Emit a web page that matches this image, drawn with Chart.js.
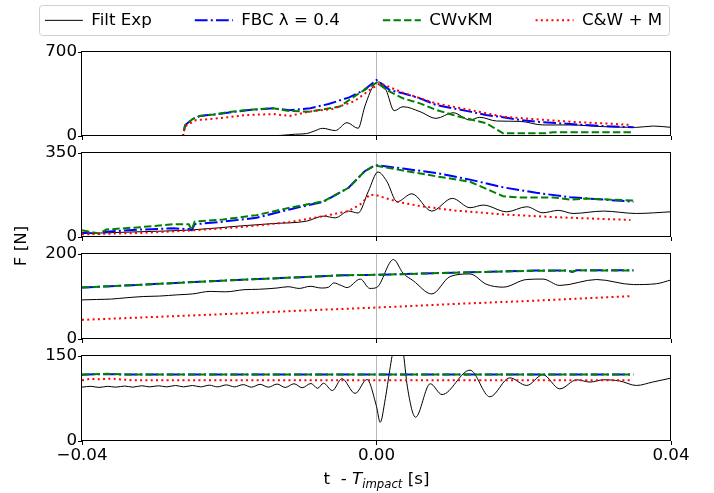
<!DOCTYPE html>
<html><head><meta charset="utf-8">
<script src="https://cdn.jsdelivr.net/npm/chart.js@4.4.1/dist/chart.umd.min.js"></script>
<style>
html,body{margin:0;padding:0;background:#fff;}
#wrap{position:relative;width:714px;height:493px;overflow:hidden;background:#fff;}
#wrap canvas{position:absolute;left:0;}
</style></head><body>
<div id="wrap">
<canvas id="c1" width="714" height="493" style="top:0"></canvas>
<canvas id="c2" width="714" height="493" style="top:0"></canvas>
<canvas id="c3" width="714" height="493" style="top:0"></canvas>
<canvas id="c4" width="714" height="493" style="top:0"></canvas>
<canvas id="leg" width="714" height="150" style="top:-31px"></canvas>
</div>
<script>
// ---------- data ----------
const seriesLabels = ['Filt Exp', 'FBC λ = 0.4', 'CWvKM', 'C&W + M'];
const xTickValues = [-0.04, 0.00, 0.04];
const yMaxValues = [700, 350, 200, 150];

// panel 1
const p1ExpT = [-0.0400,-0.0350,-0.0300,-0.0250,-0.0220,-0.0190,-0.0160,-0.0130,-0.0110,-0.0095,-0.0085,-0.0073,-0.0056,-0.0040,-0.0025,-0.0016,-0.0005,0.0003,0.0013,0.0024,0.0036,0.0059,0.0081,0.0104,0.0127,0.0140,0.0163,0.0195,0.0226,0.0263,0.0308,0.0353,0.0376,0.0400];
const p1Exp  = [2,2,1,3,2,4,2,5,15,20,40,64,45,111,64,244,411,450,383,211,244,203,147,194,133,156,125,122,92,92,78,72,83,72];
const p1FbcT = [-0.0400,-0.0263,-0.0260,-0.0250,-0.0240,-0.0220,-0.0200,-0.0176,-0.0140,-0.0118,-0.0090,-0.0065,-0.0037,-0.0017,0.0000,0.0018,0.0036,0.0059,0.0081,0.0104,0.0127,0.0149,0.0172,0.0195,0.0217,0.0263,0.0308,0.0349];
const p1Fbc  = [0,0,90,140,167,180,195,215,231,215,231,267,322,383,467,383,356,314,258,231,203,175,156,133,119,100,83,72];
const p1CwT  = [-0.0400,-0.0263,-0.0260,-0.0250,-0.0240,-0.0220,-0.0200,-0.0176,-0.0140,-0.0118,-0.0090,-0.0050,-0.0024,0.0000,0.0018,0.0036,0.0059,0.0081,0.0104,0.0127,0.0149,0.0172,0.0230,0.0240,0.0349];
const p1Cw   = [0,0,90,140,167,180,200,217,231,208,203,245,355,445,369,314,272,217,175,139,106,22,22,31,31];
const p1CwmT = [-0.0400,-0.0263,-0.0260,-0.0245,-0.0220,-0.0176,-0.0140,-0.0118,-0.0090,-0.0060,-0.0030,-0.0010,0.0005,0.0036,0.0081,0.0127,0.0172,0.0217,0.0263,0.0308,0.0345];
const p1Cwm  = [0,0,80,133,144,175,183,167,205,225,290,380,440,361,272,217,161,139,119,106,92];

// panel 2
const p2ExpT = [-0.0400,-0.0321,-0.0253,-0.0185,-0.0140,-0.0095,-0.0072,-0.0056,-0.0038,-0.0025,-0.0011,0.0002,0.0014,0.0028,0.0048,0.0075,0.0103,0.0127,0.0145,0.0177,0.0204,0.0226,0.0247,0.0267,0.0308,0.0353,0.0400];
const p2Exp  = [14,22,29,46,56,66,87,80,108,100,191,271,232,147,180,108,161,122,133,105,126,101,111,98,108,98,105];
const p2FbcT = [-0.0400,-0.0376,-0.0367,-0.0321,-0.0276,-0.0255,-0.0251,-0.0247,-0.0208,-0.0163,-0.0118,-0.0072,-0.0038,-0.0016,-0.0004,0.0000,0.0036,0.0081,0.0127,0.0172,0.0217,0.0263,0.0308,0.0349];
const p2Fbc  = [18,14,22,31,36,33,28,53,64,80,115,147,205,274,295,299,285,267,239,207,184,166,156,147];
const p2CwT  = [-0.0400,-0.0376,-0.0367,-0.0321,-0.0276,-0.0255,-0.0251,-0.0247,-0.0208,-0.0163,-0.0118,-0.0072,-0.0038,-0.0016,-0.0004,0.0000,0.0036,0.0081,0.0127,0.0172,0.0195,0.0240,0.0263,0.0285,0.0349];
const p2Cw   = [28,14,31,41,53,53,30,64,73,91,122,149,205,274,295,297,277,253,230,170,165,165,156,160,152];
const p2CwmT = [-0.0400,-0.0321,-0.0253,-0.0185,-0.0118,-0.0072,-0.0038,-0.0022,-0.0009,0.0000,0.0028,0.0059,0.0104,0.0172,0.0240,0.0308,0.0345];
const p2Cwm  = [11,17,27,41,62,87,108,136,177,174,147,129,111,94,83,75,71];

// panel 3
const p3ExpT = [-0.0400,-0.0380,-0.0360,-0.0340,-0.0316,-0.0295,-0.0270,-0.0250,-0.0226,-0.0205,-0.0180,-0.0160,-0.0135,-0.0120,-0.0105,-0.0090,-0.0075,-0.0065,-0.0058,-0.0048,-0.0040,-0.0022,-0.0009,0.0000,0.0023,0.0036,0.0050,0.0075,0.0100,0.0127,0.0149,0.0172,0.0204,0.0226,0.0249,0.0299,0.0349,0.0380,0.0400];
const p3Exp  = [92,93,94,97,100,101,104,106,112,111,116,117,120,123,119,124,120,122,132,126,121,141,119,121,187,155,137,106,147,153,129,122,140,141,126,140,128,130,139];
const p3FbcT = [-0.0400,-0.0316,-0.0226,-0.0135,-0.0045,0.0000,0.0127,0.0217,0.0260,0.0266,0.0272,0.0349];
const p3Fbc  = [121,128,136,143,150,151,157,161,161,158,162,161.5];
const p3CwT  = [-0.0400,-0.0316,-0.0226,-0.0135,-0.0045,0.0000,0.0127,0.0217,0.0260,0.0266,0.0272,0.0349];
const p3Cw   = [121,128,136,143,150,151,157,160.5,161,158.5,161.5,161];
const p3CwmT = [-0.0400,-0.0300,-0.0200,-0.0100,0.0000,0.0100,0.0200,0.0300,0.0345];
const p3Cwm  = [45,52,59,67,74,82,89,97,101];

// panel 4
const p4ExpT = [-0.0400,-0.0388,-0.0377,-0.0365,-0.0354,-0.0342,-0.0331,-0.0319,-0.0308,-0.0296,-0.0285,-0.0273,-0.0262,-0.0250,-0.0239,-0.0227,-0.0216,-0.0204,-0.0193,-0.0181,-0.0170,-0.0158,-0.0147,-0.0135,-0.0124,-0.0112,-0.0101,-0.0089,-0.0080,-0.0072,-0.0060,-0.0047,-0.0029,-0.0013,0.0000,0.0005,0.0012,0.0018,0.0024,0.0030,0.0036,0.0042,0.0053,0.0073,0.0089,0.0127,0.0154,0.0181,0.0204,0.0226,0.0249,0.0272,0.0290,0.0308,0.0330,0.0353,0.0375,0.0400];
const p4Exp  = [95,96.5,94.5,96.5,95,97,95,97.5,95.5,97.5,95.5,98,95.5,98,95.5,98.5,95.5,99,95.5,99.5,95,100,95,100.5,94.5,101,94,101.5,93,102,89,110,84,108.5,61,33,75,125,170,192,160,95,42,101,82,125,78,111.5,98,117,92,108,104,108,106,98,104,111];
const p4FbcT = [-0.0400,-0.0370,-0.0350,0.0349];
const p4Fbc  = [117,118,117.5,117.5];
const p4CwT  = [-0.0400,-0.0365,-0.0340,0.0349];
const p4Cw   = [117.5,118.5,117.5,117.5];
const p4CwmT = [-0.0400,-0.0390,-0.0375,-0.0360,-0.0345,-0.0330,0.0345];
const p4Cwm  = [107,109.5,109,110,108.5,107,107];

// ---------- styling ----------
const FONT = "'DejaVu Sans', sans-serif";
const FS = 16.7;
Chart.defaults.font.family = FONT;
Chart.defaults.font.size = FS;
Chart.defaults.color = '#000';

const styles = [
  {color:'#000000', width:1, dash:[], order:3, mono:true},
  {color:'#0000ff', width:2, dash:[12.8,3.2,2,3.2], order:2},
  {color:'#008000', width:2, dash:[7.4,3.2], order:1},
  {color:'#ff0000', width:2, dash:[2,3.3], order:0}
];

const panels = [
  {series:[[p1ExpT,p1Exp],[p1FbcT,p1Fbc],[p1CwT,p1Cw],[p1CwmT,p1Cwm]], top:52, bottom:136},
  {series:[[p2ExpT,p2Exp],[p2FbcT,p2Fbc],[p2CwT,p2Cw],[p2CwmT,p2Cwm]], top:153, bottom:237},
  {series:[[p3ExpT,p3Exp],[p3FbcT,p3Fbc],[p3CwT,p3Cw],[p3CwmT,p3Cwm]], top:254, bottom:339},
  {series:[[p4ExpT,p4Exp],[p4FbcT,p4Fbc],[p4CwT,p4Cw],[p4CwmT,p4Cwm]], top:356, bottom:441}
];
const PLOT_LEFT = 82, PLOT_RIGHT = 671;

const framePlugin = {
  id: 'frame',
  afterDraw(chart) {
    const a = chart.chartArea, c = chart.ctx;
    c.save();
    c.strokeStyle = '#000'; c.lineWidth = 1; c.setLineDash([]);
    c.strokeRect(Math.round(a.left) - 0.5, Math.round(a.top) - 0.5,
                 Math.round(a.right - a.left), Math.round(a.bottom - a.top));
    c.restore();
  }
};

const titlesPlugin = {
  id: 'titles',
  afterDraw(chart) {
    const c = chart.ctx;
    c.save();
    c.fillStyle = '#000';
    c.font = FS + 'px ' + FONT;
    c.translate(22, 246);
    c.rotate(-Math.PI / 2);
    c.textAlign = 'center';
    c.textBaseline = 'middle';
    c.fillText('F [N]', 0, 0);
    c.restore();

    const parts = [
      {t:'t  - ', f: FS + 'px ' + FONT, dy:0},
      {t:'T', f:'italic ' + FS + 'px ' + FONT, dy:0},
      {t:'impact', f:'italic ' + (FS*0.7).toFixed(1) + 'px ' + FONT, dy:3.5},
      {t:' [s]', f: FS + 'px ' + FONT, dy:0}
    ];
    c.save();
    c.fillStyle = '#000';
    c.textAlign = 'left';
    c.textBaseline = 'alphabetic';
    let total = 0;
    parts.forEach(p => { c.font = p.f; p.w = c.measureText(p.t).width; total += p.w; });
    let x = (PLOT_LEFT + PLOT_RIGHT) / 2 - total / 2;
    parts.forEach(p => { c.font = p.f; c.fillText(p.t, x, 484 + p.dy); x += p.w; });
    c.restore();
  }
};

function fmtX(v) {
  if (Math.abs(v) < 1e-9) return '0.00';
  return (v < 0 ? '\u2212' : '') + Math.abs(v).toFixed(2);
}

panels.forEach((p, k) => {
  const isLast = k === panels.length - 1;
  const datasets = p.series.map((s, i) => ({
    label: seriesLabels[i],
    data: s[0].map((t, j) => ({x: t, y: s[1][j]})),
    borderColor: styles[i].color,
    backgroundColor: styles[i].color,
    borderWidth: styles[i].width,
    borderDash: styles[i].dash,
    pointRadius: 0,
    fill: false,
    tension: styles[i].mono ? 0.4 : 0,
    cubicInterpolationMode: styles[i].mono ? 'monotone' : 'default',
    order: styles[i].order
  }));
  new Chart(document.getElementById('c' + (k + 1)), {
    type: 'line',
    data: {datasets},
    options: {
      responsive: false, animation: false, devicePixelRatio: 1,
      events: [],
      layout: {padding: {top: p.top, left: 0, right: 714 - PLOT_RIGHT, bottom: 0}},
      plugins: {legend: {display: false}, tooltip: {enabled: false}},
      scales: {
        x: {
          type: 'linear', min: xTickValues[0], max: xTickValues[2],
          afterFit: s => { s.height = 493 - p.bottom; },
          afterBuildTicks: s => { s.ticks = xTickValues.map(v => ({value: v})); },
          border: {display: false},
          grid: {
            drawOnChartArea: true, drawTicks: true, tickLength: 4,
            tickColor: '#000', tickWidth: 1, lineWidth: 1,
            color: c => (c.tick && Math.abs(c.tick.value) < 1e-9) ? '#b8b8b8' : 'rgba(0,0,0,0)'
          },
          ticks: {display: isLast, padding: 1, maxRotation: 0, autoSkip: false,
                  callback: v => fmtX(v), color: '#000', font: {size: FS}}
        },
        y: {
          type: 'linear', min: 0, max: yMaxValues[k],
          afterFit: s => { s.width = PLOT_LEFT; },
          afterBuildTicks: s => { s.ticks = [{value: 0}, {value: yMaxValues[k]}]; },
          border: {display: false},
          grid: {drawOnChartArea: false, drawTicks: true, tickLength: 4, tickColor: '#000', tickWidth: 1},
          ticks: {padding: 1, color: '#000', font: {size: FS}, callback: v => String(v)}
        }
      }
    },
    plugins: isLast ? [framePlugin, titlesPlugin] : [framePlugin]
  });
});

// ---------- legend ----------
const legendFrame = {
  id: 'legendFrame',
  afterDraw(chart) {
    const hb = chart.legend && chart.legend.legendHitBoxes;
    if (!hb || !hb.length) return;
    const c = chart.ctx;
    const x0 = hb[0].left - 6, x1 = hb[hb.length - 1].left + hb[hb.length - 1].width + 7;
    const cy = hb[0].top + hb[0].height / 2;
    const y0 = cy - 15, y1 = cy + 15;
    c.save();
    c.strokeStyle = '#d0d0d0'; c.lineWidth = 1;
    c.beginPath();
    c.roundRect(Math.round(x0) + 0.5, Math.round(y0) + 0.5, Math.round(x1 - x0), Math.round(y1 - y0), 3);
    c.stroke();
    c.restore();
  }
};

new Chart(document.getElementById('leg'), {
  type: 'line',
  data: {datasets: styles.map((s, i) => ({
    label: seriesLabels[i], data: [],
    borderColor: s.color, backgroundColor: s.color,
    borderWidth: s.width, borderDash: s.dash, pointStyle: 'line'
  }))},
  options: {
    responsive: false, animation: false, devicePixelRatio: 1, events: [],
    layout: {padding: {left: 0, right: 7, top: 0, bottom: 0}},
    scales: {x: {display: false}, y: {display: false}},
    plugins: {
      tooltip: {enabled: false},
      legend: {display: true, position: 'top', align: 'center',
        labels: {
          usePointStyle: true, pointStyle: 'line', pointStyleWidth: 38,
          padding: 43, color: '#000', font: {size: FS},
          generateLabels: chart => Chart.defaults.plugins.legend.labels.generateLabels(chart).map(item => {
            const d = chart.data.datasets[item.datasetIndex];
            return Object.assign(item, {
              lineDash: d.borderDash, lineWidth: d.borderWidth,
              strokeStyle: d.borderColor, fillStyle: d.borderColor, lineCap: 'butt'
            });
          })
        }
      }
    }
  },
  plugins: [legendFrame]
});
</script>
</body></html>
